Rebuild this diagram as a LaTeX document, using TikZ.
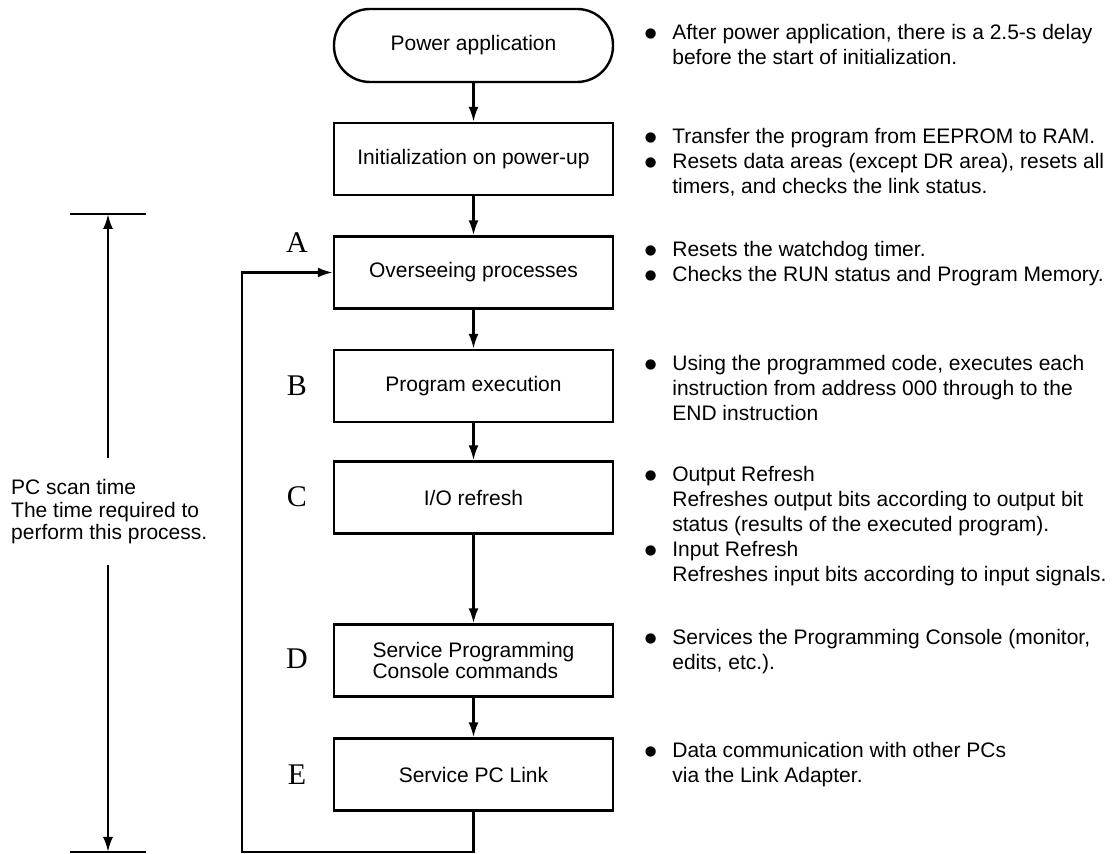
\documentclass[tikz,border=0pt]{standalone}
\usepackage{fontspec}
\setmainfont{Liberation Sans}
\newfontfamily\tagfont{Liberation Serif}
\usetikzlibrary{arrows.meta}
\newcommand{\dotmark}{\smash{\raisebox{-3.15pt}{\scalebox{1.8}{\textbullet}}}}
\newcommand{\notelist}[1]{\begin{tabular}[t]{@{}l@{\hspace{7.2pt}}l@{}}#1\end{tabular}}

\begin{document}
\begin{tikzpicture}[x=0.5pt, y=-0.5pt, line width=1.2pt, >={Latex[length=7.5pt,width=5pt]},
  font=\fontsize{10.5}{12.5}\selectfont,
  box/.style={draw, rectangle, minimum width=139.5pt, minimum height=36pt, inner sep=0pt},
  term/.style={box, rounded corners=18pt, minimum height=36.5pt},
  tag/.style={font=\tagfont\fontsize{15}{15}\selectfont},
  note/.style={anchor=base west, inner sep=0pt}]
\useasboundingbox (0,0) rectangle (1114,854);

\node[term] (power) at (473.5,45.5) {Power application};
\node[box] (init) at (473.5,159) {Initialization on power-up};
\node[box] (watch) at (473.5,272.5) {Overseeing processes};
\node[box] (exec) at (473.5,386) {Program execution};
\node[box] (io) at (473.5,497.5) {I/O refresh};
\node[box, align=left, font=\fontsize{10.5}{10.5}\selectfont] (console) at (473.5,660.5) {Service Programming\\Console commands};
\node[box] (link) at (473.5,774.5) {Service PC Link};

\node[tag] (tagA) at (297,243) {A};
\node[tag] (tagB) at (297,386) {B};
\node[tag] (tagC) at (297,497) {C};
\node[tag] (tagD) at (297,659) {D};
\node[tag] (tagE) at (297,775) {E};

\draw[->] (power) -- (init);
\draw[->] (init) -- (watch);
\draw[->] (watch) -- (exec);
\draw[->] (exec) -- (io);
\draw[->] (io) -- (console);
\draw[->] (console) -- (link);

% back to A after each scan
\coordinate (back) at (242,852);
\draw[->] (link.south) |- (back) |- (watch.west);

% scan time span
\coordinate (scantop) at (108,214);
\coordinate (scanbot) at (108,852);
\coordinate (scanup) at (108,458);
\coordinate (scandown) at (108,565);
\draw ([xshift=-19pt]scantop) -- ([xshift=19pt]scantop);
\draw ([xshift=-19pt]scanbot) -- ([xshift=19pt]scanbot);
\draw[->] (scanup) -- (scantop);
\draw[->] (scandown) -- (scanbot);
\node[note, font=\fontsize{10.5}{11.25}\selectfont] (scan) at (10,495)
  {\begin{tabular}[t]{@{}l@{}}PC scan time\\The time required to\\perform this process.\end{tabular}};

% notes on the right
\node[note] (notePower) at (643.5,40) {\notelist{\dotmark & After power application, there is a 2.5-s delay\\
  & before the start of initialization.}};
\node[note] (noteInit) at (643.5,144) {\notelist{\dotmark & Transfer the program from EEPROM to RAM.\\
  \dotmark & Resets data areas (except DR area), resets all\\
  & timers, and checks the link status.}};
\node[note] (noteWatch) at (643.5,257) {\notelist{\dotmark & Resets the watchdog timer.\\
  \dotmark & Checks the RUN status and Program Memory.}};
\node[note] (noteExec) at (643.5,371) {\notelist{\dotmark & Using the programmed code, executes each\\
  & instruction from address 000 through to the\\
  & END instruction}};
\node[note] (noteIO) at (643.5,482) {\notelist{\dotmark & Output Refresh\\
  & Refreshes output bits according to output bit\\
  & status (results of the executed program).\\
  \dotmark & Input Refresh\\
  & Refreshes input bits according to input signals.}};
\node[note] (noteConsole) at (643.5,645) {\notelist{\dotmark & Services the Programming Console (monitor,\\
  & edits, etc.).}};
\node[note] (noteLink) at (643.5,758) {\notelist{\dotmark & Data communication with other PCs\\
  & via the Link Adapter.}};
\end{tikzpicture}
\end{document}
